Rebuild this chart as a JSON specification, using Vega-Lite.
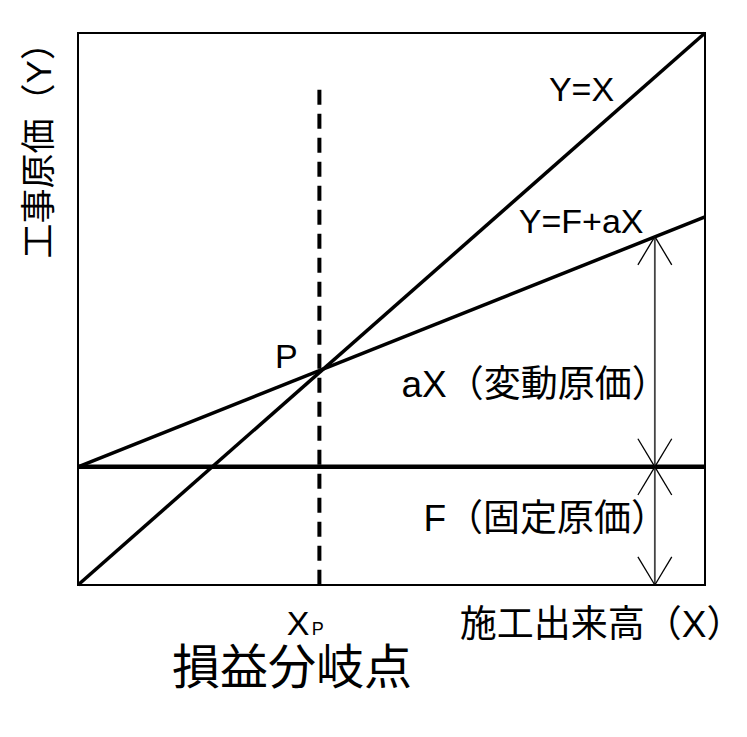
{
  "$schema": "https://vega.github.io/schema/vega-lite/v6.json",
  "width": 627,
  "height": 552,
  "autosize": {"type": "none"},
  "padding": {"left": 78, "top": 33, "right": 42, "bottom": 152},
  "background": "white",
  "config": {"view": {"stroke": "black", "strokeWidth": 2}},
  "datasets": {
    "segs": [
      {"kind": "main", "x": 0, "y": 0, "x2": 100, "y2": 100},
      {"kind": "main", "x": 0, "y": 21.4, "x2": 100, "y2": 66.7},
      {"kind": "fixed", "x": 0, "y": 21.4, "x2": 100, "y2": 21.4},
      {"kind": "dash", "x": 38.5, "y": 89.7, "x2": 38.5, "y2": 0},
      {"kind": "shaft", "x": 92, "y": 63.1, "x2": 92, "y2": 0},
      {"kind": "wing", "x": 92, "y": 63.1, "x2": 89.3, "y2": 58.0},
      {"kind": "wing", "x": 92, "y": 63.1, "x2": 94.7, "y2": 58.0},
      {"kind": "wing", "x": 92, "y": 21.4, "x2": 89.3, "y2": 26.5},
      {"kind": "wing", "x": 92, "y": 21.4, "x2": 94.7, "y2": 26.5},
      {"kind": "wing", "x": 92, "y": 21.4, "x2": 89.3, "y2": 16.3},
      {"kind": "wing", "x": 92, "y": 21.4, "x2": 94.7, "y2": 16.3},
      {"kind": "wing", "x": 92, "y": 0, "x2": 89.3, "y2": 5.1},
      {"kind": "wing", "x": 92, "y": 0, "x2": 94.7, "y2": 5.1}
    ],
    "labels": [
      {"kind": "latin", "label": "Y=X", "x": 75.1, "y": 87.7},
      {"kind": "latin", "label": "Y=F+aX", "x": 70.3, "y": 63.8},
      {"kind": "latin", "label": "P", "x": 31.4, "y": 39.3},
      {"kind": "latin", "label": "X", "x": 33.3, "y": -9.1},
      {"kind": "mixed", "label": "aX（変動原価）", "x": 51.6, "y": 34.0},
      {"kind": "mixed", "label": "F（固定原価）", "x": 55.1, "y": 9.8},
      {"kind": "mixed", "label": "施工出来高（X）", "x": 60.9, "y": -9.4},
      {"kind": "sub", "label": "P", "x": 37.3, "y": -9.1},
      {"kind": "big", "label": "損益分岐点", "x": 15.0, "y": -17.9},
      {"kind": "ytitle", "label": "工事原価（Y）", "x": -6.1, "y": 80.3}
    ]
  },
  "encoding": {
    "x": {"field": "x", "type": "quantitative", "scale": {"domain": [0, 100], "nice": false, "zero": false}, "axis": null},
    "y": {"field": "y", "type": "quantitative", "scale": {"domain": [0, 100], "nice": false, "zero": false}, "axis": null}
  },
  "layer": [
    {
      "data": {"name": "segs"},
      "transform": [{"filter": "datum.kind === 'main'"}],
      "mark": {"type": "rule", "color": "black", "strokeWidth": 3.5},
      "encoding": {"x2": {"field": "x2"}, "y2": {"field": "y2"}}
    },
    {
      "data": {"name": "segs"},
      "transform": [{"filter": "datum.kind === 'fixed'"}],
      "mark": {"type": "rule", "color": "black", "strokeWidth": 4.5},
      "encoding": {"x2": {"field": "x2"}, "y2": {"field": "y2"}}
    },
    {
      "data": {"name": "segs"},
      "transform": [{"filter": "datum.kind === 'dash'"}],
      "mark": {"type": "rule", "color": "black", "strokeWidth": 4, "strokeDash": [15, 9]},
      "encoding": {"x2": {"field": "x2"}, "y2": {"field": "y2"}}
    },
    {
      "data": {"name": "segs"},
      "transform": [{"filter": "datum.kind === 'shaft'"}],
      "mark": {"type": "rule", "color": "#444444", "strokeWidth": 1.8},
      "encoding": {"x2": {"field": "x2"}, "y2": {"field": "y2"}}
    },
    {
      "data": {"name": "segs"},
      "transform": [{"filter": "datum.kind === 'wing'"}],
      "mark": {"type": "rule", "color": "black", "strokeWidth": 1.3},
      "encoding": {"x2": {"field": "x2"}, "y2": {"field": "y2"}}
    },
    {
      "data": {"name": "labels"},
      "transform": [{"filter": "datum.kind === 'latin'"}],
      "mark": {"type": "text", "align": "left", "baseline": "alphabetic", "fontSize": 34, "font": "Liberation Sans, Noto Sans CJK JP", "color": "black"},
      "encoding": {"text": {"field": "label"}}
    },
    {
      "data": {"name": "labels"},
      "transform": [{"filter": "datum.kind === 'mixed'"}],
      "mark": {"type": "text", "align": "left", "baseline": "alphabetic", "fontSize": 37, "font": "Liberation Sans, Noto Sans CJK JP", "color": "black"},
      "encoding": {"text": {"field": "label"}}
    },
    {
      "data": {"name": "labels"},
      "transform": [{"filter": "datum.kind === 'sub'"}],
      "mark": {"type": "text", "align": "left", "baseline": "alphabetic", "fontSize": 18, "font": "Liberation Sans, Noto Sans CJK JP", "color": "black"},
      "encoding": {"text": {"field": "label"}}
    },
    {
      "data": {"name": "labels"},
      "transform": [{"filter": "datum.kind === 'big'"}],
      "mark": {"type": "text", "align": "left", "baseline": "alphabetic", "fontSize": 48, "font": "Noto Sans CJK JP", "color": "black"},
      "encoding": {"text": {"field": "label"}}
    },
    {
      "data": {"name": "labels"},
      "transform": [{"filter": "datum.kind === 'ytitle'"}],
      "mark": {"type": "text", "align": "center", "baseline": "middle", "angle": 270, "fontSize": 35, "font": "Liberation Sans, Noto Sans CJK JP", "color": "black"},
      "encoding": {"text": {"field": "label"}}
    }
  ]
}
